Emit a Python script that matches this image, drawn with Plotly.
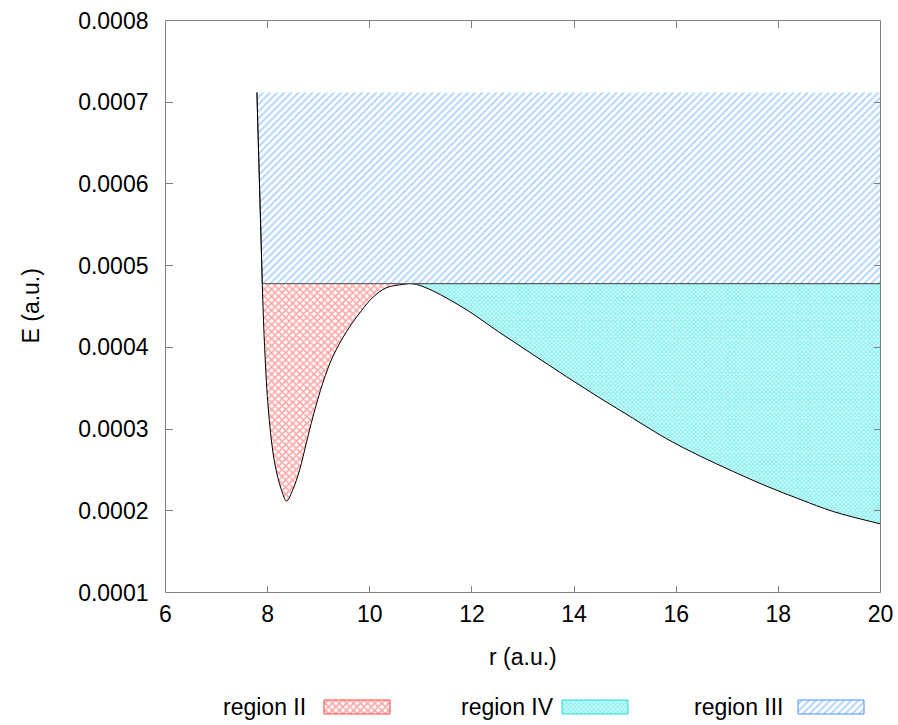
import plotly.graph_objects as go

# Potential curve
r_vals = [7.79, 7.895, 7.94, 8.019, 8.136, 8.268, 8.372, 8.495, 8.626, 8.758, 8.887,
          9.083, 9.279, 9.542, 9.802, 10.057, 10.326, 10.645, 10.78, 10.914, 11.239,
          11.894, 12.546, 13.199, 13.854, 14.506, 15.159, 15.814, 16.466, 17.119,
          17.774, 18.426, 19.079, 20.0]
E_vals = [0.000712, 0.000478, 0.000401, 0.000320, 0.000259, 0.000226, 0.000212,
          0.000226, 0.000250, 0.000283, 0.000315, 0.000357, 0.000389, 0.000419,
          0.000442, 0.000461, 0.000473, 0.000477, 0.000478, 0.000477, 0.000469,
          0.000446, 0.000418, 0.000391, 0.000364, 0.000338, 0.000313, 0.000288,
          0.000267, 0.000248, 0.000230, 0.000214, 0.000199, 0.000184]

E_barrier = 0.000478
E_top = 0.000712
r_min, r_max = 6, 20
y_ticks = [0.0001, 0.0002, 0.0003, 0.0004, 0.0005, 0.0006, 0.0007, 0.0008]
x_ticks = [6, 8, 10, 12, 14, 16, 18, 20]
names = ["region II", "region IV", "region III"]

i_left = 1    # inner turning point
i_peak = 18   # barrier top

FONT = "Liberation Sans, Arial, sans-serif"
FS = 23
W, H = 898, 725

pat_II = dict(shape="x", fgcolor="#ff4c4c", bgcolor="white", size=5, solidity=0.55)
pat_IV = dict(shape="x", fgcolor="#30e6e6", bgcolor="white", size=3, solidity=0.8)
pat_III = dict(shape="/", fgcolor="#5aa8ff", bgcolor="white", size=5, solidity=0.36)
CLEAR = "rgba(0,0,0,0)"
SM = 1.0

fig = go.Figure()

# region II: well, between curve and barrier energy
fig.add_trace(go.Scatter(
    x=r_vals[i_left:i_peak + 1], y=E_vals[i_left:i_peak + 1],
    mode="lines", line=dict(color="black", width=1, shape="spline", smoothing=SM),
    fill="toself", fillcolor=CLEAR, fillpattern=pat_II,
    name=names[0], showlegend=False))

# region IV: outside barrier
fig.add_trace(go.Scatter(
    x=[r_vals[i_peak], r_vals[-1]], y=[E_barrier, E_barrier],
    mode="lines", line=dict(color="#555", width=1), showlegend=False, hoverinfo="skip"))
fig.add_trace(go.Scatter(
    x=r_vals[i_peak:], y=E_vals[i_peak:],
    mode="lines", line=dict(color="black", width=1, shape="spline", smoothing=SM),
    fill="tonexty", fillcolor=CLEAR, fillpattern=pat_IV,
    name=names[1], showlegend=False))

# region III: above barrier
fig.add_trace(go.Scatter(
    x=[r_vals[0], r_vals[i_left], r_vals[-1]], y=[E_top, E_barrier, E_barrier],
    mode="lines", line=dict(color="#555", width=1), showlegend=False, hoverinfo="skip"))
fig.add_trace(go.Scatter(
    x=[r_vals[0], r_vals[-1]], y=[E_top, E_top],
    mode="lines", line=dict(color=CLEAR, width=0),
    fill="tonexty", fillcolor=CLEAR, fillpattern=pat_III,
    name=names[2], showlegend=False))

# left wall of the curve
fig.add_trace(go.Scatter(
    x=r_vals[:i_left + 1], y=E_vals[:i_left + 1], mode="lines",
    line=dict(color="black", width=1), showlegend=False, hoverinfo="skip"))

# ---- custom key (text, then swatch) on a pixel-scaled helper axis ----
key_text_right = [308, 556, 786]
key_sw_left = [324, 562, 798]
key_sw_w, key_y0, key_y1 = 66, 700, 714
key_pats = [pat_II, pat_IV, pat_III]
key_borders = ["#ff4040", "#20dada", "#4a90ff"]
for name, tr, sl, pat, bc in zip(names, key_text_right, key_sw_left, key_pats, key_borders):
    fig.add_trace(go.Scatter(
        x=[sl, sl + key_sw_w, sl + key_sw_w, sl, sl],
        y=[key_y0, key_y0, key_y1, key_y1, key_y0],
        mode="lines", line=dict(color=bc, width=1), fill="toself",
        fillcolor=CLEAR, fillpattern=pat, xaxis="x2", yaxis="y2",
        showlegend=False, hoverinfo="skip"))
    fig.add_annotation(x=tr, y=(key_y0 + key_y1) / 2, xref="x2", yref="y2",
                       text=name, showarrow=False, xanchor="right", yanchor="middle",
                       font=dict(family=FONT, size=FS, color="black"))

axis_common = dict(
    showline=False, mirror="allticks",
    ticks="inside", ticklen=7, tickcolor="#808080", showgrid=False, zeroline=False,
    automargin=False, tickfont=dict(family=FONT, size=FS, color="black"),
)
x0p, x1p, y0p, y1p = 165.5, 880.5, 592.5, 20.5
fig.update_layout(
    xaxis=dict(domain=[x0p / W, x1p / W], range=[r_min, r_max], tickvals=x_ticks,
               ticklabelstandoff=5, **axis_common),
    yaxis=dict(domain=[(H - y0p) / H, (H - y1p) / H],
               range=[y_ticks[0], y_ticks[-1] * 1.000001],
               tickvals=y_ticks, tickformat=".4f", ticklabelstandoff=16, **axis_common),
    xaxis2=dict(domain=[0, 1], range=[0, W], visible=False, fixedrange=True),
    yaxis2=dict(domain=[0, 50 / H], range=[H, H - 50], visible=False, fixedrange=True,
                anchor="x2"),
)

# plot frame (paper-referenced so it is never clipped)
fig.add_shape(type="rect", xref="paper", yref="paper",
              x0=x0p / W, x1=x1p / W, y0=(H - y0p) / H, y1=(H - y1p) / H,
              line=dict(color="#808080", width=1), fillcolor=CLEAR, layer="above")

fig.add_annotation(x=(x0p + x1p) / 2 / W, y=(H - 657) / H, xref="paper", yref="paper",
                   text="r (a.u.)", showarrow=False, xanchor="center", yanchor="middle",
                   font=dict(family=FONT, size=FS, color="black"))
fig.add_annotation(x=30 / W, y=(H - (y0p + y1p) / 2) / H, xref="paper", yref="paper",
                   text="E (a.u.)", showarrow=False, textangle=-90,
                   xanchor="center", yanchor="middle",
                   font=dict(family=FONT, size=FS, color="black"))

fig.update_layout(
    width=W, height=H,
    margin=dict(l=0, r=0, t=0, b=0),
    plot_bgcolor="white", paper_bgcolor="white",
    font=dict(family=FONT, size=FS, color="black"),
    showlegend=False,
)

fig.write_html(
    "out.html",
    config={"displayModeBar": False},
    post_script="document.body.style.margin='0';document.body.style.overflow='hidden';"
                "document.documentElement.style.overflow='hidden';",
)
